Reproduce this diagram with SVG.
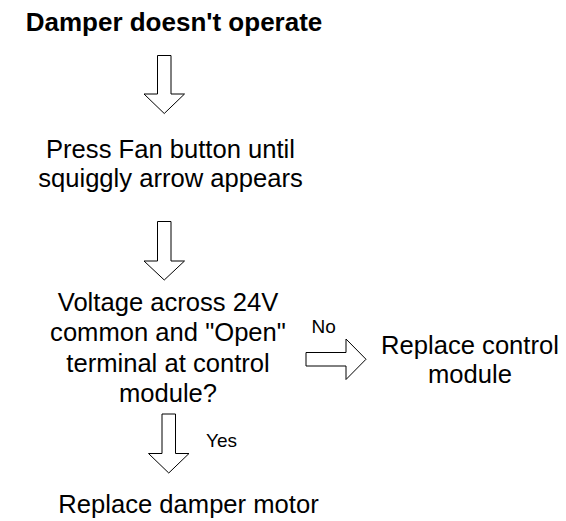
<svg xmlns="http://www.w3.org/2000/svg" width="566" height="521" viewBox="0 0 566 521">
<style>
text{font-family:"Liberation Sans",Arial,sans-serif;fill:#000;}
.t{font-size:25.6px;text-anchor:middle;}
.h{font-size:26px;font-weight:bold;text-anchor:middle;}
.l{font-size:19px;}
.arr{fill:#fff;stroke:#000;stroke-width:1;}
</style>
<rect width="566" height="521" fill="#fff"/>
<g id="connectors">
<path class="arr" d="M157.5,55.5 H171 V94 H184.5 L164.25,113.5 L144,94 H157.5 Z"/>
<path class="arr" d="M157.5,221.5 H171 V261 H184.5 L164.25,280 L144,261 H157.5 Z"/>
<path class="arr" d="M162,414 H175.5 V453.5 H189 L168.75,473 L148.5,453.5 H162 Z"/>
<path class="arr" d="M306,352.5 V366 H346 V379.5 L366,359.25 L346,339 V352.5 Z"/>
<text id="lbl-no" class="l" x="311.5" y="332.5">No</text>
<text id="lbl-yes" class="l" x="206" y="447">Yes</text>
</g>
<g id="start"><text class="h" x="174" y="30.5">Damper doesn't operate</text></g>
<g id="step1"><text class="t" x="170.5" y="158.3">Press Fan button until</text><text class="t" x="170.5" y="187">squiggly arrow appears</text></g>
<g id="decision"><text class="t" x="168" y="310.7">Voltage across 24V</text><text class="t" x="168" y="341">common and "Open"</text><text class="t" x="168" y="371.5">terminal at control</text><text class="t" x="168" y="402">module?</text></g>
<g id="no-result"><text class="t" x="470" y="354">Replace control</text><text class="t" x="470" y="383">module</text></g>
<g id="yes-result"><text class="t" x="188.5" y="513">Replace damper motor</text></g>
</svg>
